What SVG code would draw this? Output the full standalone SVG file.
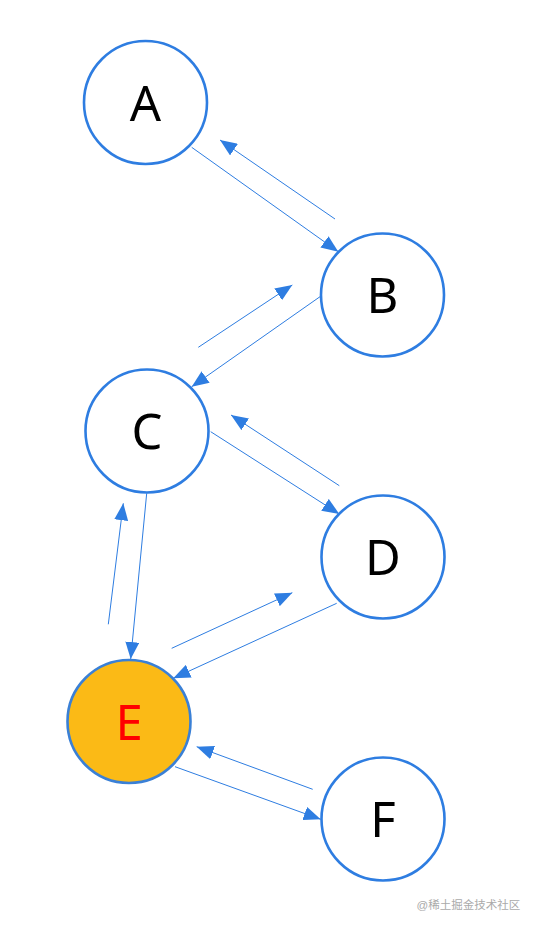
<svg xmlns="http://www.w3.org/2000/svg" width="534" height="928" viewBox="0 0 534 928">
<style>
.node{fill:#fff;stroke:#2e7de1;stroke-width:2.6}
.hl{fill:#fbba16;stroke:#3a80d6;stroke-width:2.6}
.lbl{font-family:"Noto Sans","Open Sans",sans-serif;font-size:49px;text-anchor:middle;fill:#000}
.edge{stroke:#2e7de1;stroke-width:1;fill:none;marker-end:url(#arr)}
.wm{font-family:"Liberation Sans","Noto Sans CJK SC",sans-serif;font-size:11.5px;fill:#aaa}
</style>
<defs>
<marker id="arr" markerUnits="userSpaceOnUse" markerWidth="18" markerHeight="14" viewBox="0 0 18 14" refX="17" refY="7" orient="auto">
<path d="M0,0 L17,7 L0,14 Z" fill="#2e7de1"/>
</marker>
</defs>
<g id="connectors">
<line class="edge" x1="191.7" y1="147.3" x2="338.3" y2="251.7"/>
<line class="edge" x1="335" y1="219" x2="220" y2="140"/>
<line class="edge" x1="198.3" y1="347.3" x2="292.3" y2="285"/>
<line class="edge" x1="320" y1="296.7" x2="191.7" y2="386.7"/>
<line class="edge" x1="210.7" y1="431.7" x2="339.3" y2="514"/>
<line class="edge" x1="339.3" y1="485.7" x2="231" y2="415"/>
<line class="edge" x1="146.7" y1="493.3" x2="130.7" y2="659"/>
<line class="edge" x1="108.3" y1="624.3" x2="123.3" y2="503.3"/>
<line class="edge" x1="171.7" y1="648.3" x2="292.3" y2="592.7"/>
<line class="edge" x1="336.7" y1="603.3" x2="173.3" y2="678.3"/>
<line class="edge" x1="175" y1="766.7" x2="320.7" y2="819.3"/>
<line class="edge" x1="312.7" y1="789.3" x2="196.7" y2="746.7"/>
</g>
<g id="node-A"><circle class="node" cx="145.5" cy="102.5" r="61.5"/><text class="lbl" x="145.5" y="120.5">A</text></g>
<g id="node-B"><circle class="node" cx="382.5" cy="295" r="61.5"/><text class="lbl" x="382.5" y="313">B</text></g>
<g id="node-C"><circle class="node" cx="147" cy="431" r="61.5"/><text class="lbl" x="147" y="449">C</text></g>
<g id="node-D"><circle class="node" cx="383" cy="557" r="61.5"/><text class="lbl" x="383" y="575">D</text></g>
<g id="node-E"><circle class="hl" cx="129" cy="721.5" r="61.5"/><text class="lbl" x="129" y="739.5" style="fill:#ff0000">E</text></g>
<g id="node-F"><circle class="node" cx="383" cy="819" r="61.5"/><text class="lbl" x="383" y="837">F</text></g>
<text class="wm" x="416.5" y="909">@稀土掘金技术社区</text>
</svg>
